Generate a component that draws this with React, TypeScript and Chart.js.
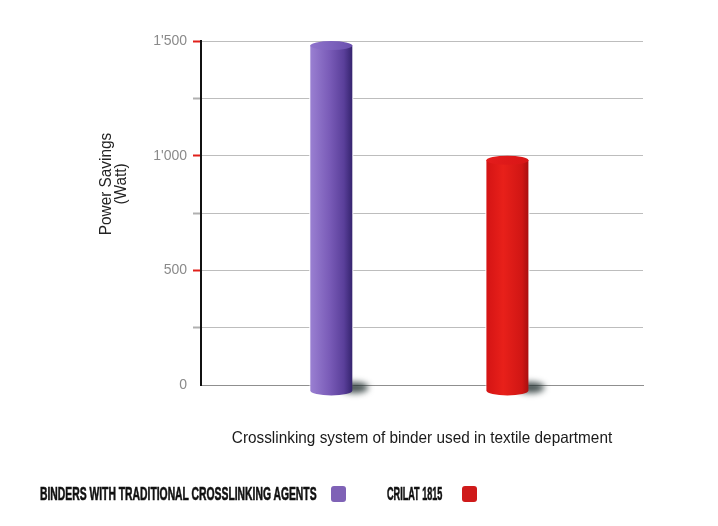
import React, { useEffect, useRef } from "react";
import { Chart, registerables } from "chart.js";

Chart.register(...registerables);

// ---- data ----
const categories = ["BINDERS WITH TRADITIONAL CROSSLINKING AGENTS", "CRILAT 1815"];
const powerSavings = [1480, 980];
const yTicks = [0, 500, 1000, 1500];
const yTitleLines = ["Power Savings", "(Watt)"];
const xTitle = "Crosslinking system of binder used in textile department";

const barColors = ["#7b5db9", "#e01a1a"];
const legendColors = ["#7f62b6", "#cf1a1a"];

const SANS = '"Liberation Sans", Arial, sans-serif';

function fmt(v: number): string {
  if (v >= 1000) {
    return `${Math.floor(v / 1000)}'${String(v % 1000).padStart(3, "0")}`;
  }
  return String(v);
}

const cylinderPlugin = {
  id: "cylinder",
  afterDatasetsDraw(chart: any) {
    const ctx = chart.ctx as CanvasRenderingContext2D;
    const meta = chart.getDatasetMeta(0);
    meta.data.forEach((el: any, i: number) => {
      const { x, y, base, width } = el.getProps(["x", "y", "base", "width"], true);
      const rx = width / 2;
      const ry = 4.5;
      const bottom = base + 6;
      const left = x - rx;
      const right = x + rx;
      ctx.save();
      ctx.fillStyle = "#ffffff";
      ctx.fillRect(left - 1, y - 1, width + 2, base - y + 2);
      // shadow
      ctx.filter = "blur(3px)";
      ctx.fillStyle = "rgba(25,40,40,0.8)";
      ctx.beginPath();
      ctx.ellipse(right + 2, base + 3, 14, 5.5, 0, 0, Math.PI * 2);
      ctx.fill();
      ctx.filter = "none";
      // body gradient
      const g = ctx.createLinearGradient(left, 0, right, 0);
      if (i === 0) {
        g.addColorStop(0, "#9a80d2");
        g.addColorStop(0.45, "#7a5cb8");
        g.addColorStop(0.8, "#5a3f9a");
        g.addColorStop(1, "#35246e");
      } else {
        g.addColorStop(0, "#d41414");
        g.addColorStop(0.4, "#e8201a");
        g.addColorStop(0.85, "#d01614");
        g.addColorStop(1, "#a80f0f");
      }
      ctx.fillStyle = g;
      ctx.beginPath();
      ctx.moveTo(left, y);
      ctx.lineTo(left, bottom);
      ctx.ellipse(x, bottom, rx, ry + 0.5, 0, Math.PI, 0, true);
      ctx.lineTo(right, y);
      ctx.closePath();
      ctx.fill();
      // top ellipse
      const gt = ctx.createLinearGradient(left, 0, right, 0);
      if (i === 0) {
        gt.addColorStop(0, "#8f74cc");
        gt.addColorStop(1, "#6a50ae");
      } else {
        gt.addColorStop(0, "#e41c1c");
        gt.addColorStop(1, "#d81616");
      }
      ctx.fillStyle = gt;
      ctx.beginPath();
      ctx.ellipse(x, y, rx, ry, 0, 0, Math.PI * 2);
      ctx.fill();
      ctx.restore();
    });
  },
};

const titlesPlugin = {
  id: "titles",
  afterDraw(chart: any) {
    const ctx = chart.ctx as CanvasRenderingContext2D;
    const area = chart.chartArea;
    // y title (rotated, condensed)
    ctx.save();
    ctx.translate(114, 184);
    ctx.rotate(-Math.PI / 2);
    ctx.scale(0.96, 1);
    ctx.font = `16px ${SANS}`;
    ctx.fillStyle = "#222";
    ctx.textAlign = "center";
    ctx.textBaseline = "middle";
    ctx.fillText(yTitleLines[0], 0, -7);
    ctx.fillText(yTitleLines[1], 0, 8);
    ctx.restore();
    // x title
    ctx.save();
    ctx.translate((area.left + area.right) / 2, 438);
    ctx.scale(0.93, 1);
    ctx.font = `16.5px ${SANS}`;
    ctx.fillStyle = "#1a1a1a";
    ctx.textAlign = "center";
    ctx.textBaseline = "middle";
    ctx.fillText(xTitle, 0, 0);
    ctx.restore();
  },
};

export default function App() {
  const ref = useRef<HTMLCanvasElement | null>(null);

  useEffect(() => {
    if (!ref.current) return;
    const chart = new Chart(ref.current, {
      type: "bar",
      data: {
        labels: categories,
        datasets: [
          {
            label: "Power Savings",
            data: powerSavings.map((v, i) => ({ x: i, y: v })),
            backgroundColor: barColors,
            barThickness: 42,
            clip: false as any,
          },
        ],
      },
      plugins: [cylinderPlugin, titlesPlugin],
      options: {
        animation: false,
        responsive: false,
        maintainAspectRatio: false,
        layout: { padding: { left: 0, right: 75, top: 41, bottom: 79 } },
        plugins: { legend: { display: false }, tooltip: { enabled: false } },
        scales: {
          x: {
            type: "linear",
            offset: false,
            min: -0.74,
            max: 1.77,
            ticks: { display: false },
            grid: { display: false, drawTicks: false },
            border: { display: true, color: "#8f8f8f", dash: [2, 2], width: 1 },
            afterFit(scale: any) {
              scale.height = 62;
            },
          },
          y: {
            min: 0,
            max: 1500,
            ticks: {
              stepSize: 250,
              padding: 6,
              color: "#8a8a8a",
              font: { family: SANS, size: 14 },
              callback: (v: any) => (yTicks.includes(Number(v)) ? fmt(Number(v)) : ""),
            },
            grid: {
              color: (c: any) => (c.tick && c.tick.value === 0 ? "rgba(0,0,0,0)" : "#bdbdbd"),
              tickColor: (c: any) =>
                c.tick && c.tick.value === 0
                  ? "rgba(0,0,0,0)"
                  : c.tick && c.tick.value % 500 === 0
                  ? "#e0201a"
                  : "#b0b0b0",
              tickLength: 8,
              tickWidth: 2,
              lineWidth: 1,
            },
            border: { display: true, color: "#111", width: 2 },
            afterFit(scale: any) {
              scale.width = 201;
            },
          },
        },
      },
    });
    return () => chart.destroy();
  }, []);

  const legendText: React.CSSProperties = {
    position: "absolute",
    top: 484,
    fontFamily: SANS,
    fontWeight: 700,
    fontSize: 18,
    lineHeight: "20px",
    color: "#111",
    whiteSpace: "nowrap",
    transformOrigin: "0 50%",
    WebkitTextStroke: "0.6px #111",
  };
  const box: React.CSSProperties = {
    position: "absolute",
    top: 486,
    width: 15,
    height: 16,
    borderRadius: 3,
  };

  return (
    <div style={{ position: "fixed", left: 0, top: 0, width: 718, height: 526, background: "#fff" }}>
      <canvas ref={ref} width={718} height={526} style={{ position: "absolute", left: 0, top: 0 }} />
      <div style={{ ...legendText, left: 40, transform: "scaleX(0.575)" }}>{categories[0]}</div>
      <div style={{ ...box, left: 331, background: legendColors[0] }} />
      <div style={{ ...legendText, left: 387, transform: "scaleX(0.505)" }}>{categories[1]}</div>
      <div style={{ ...box, left: 462, background: legendColors[1] }} />
    </div>
  );
}
